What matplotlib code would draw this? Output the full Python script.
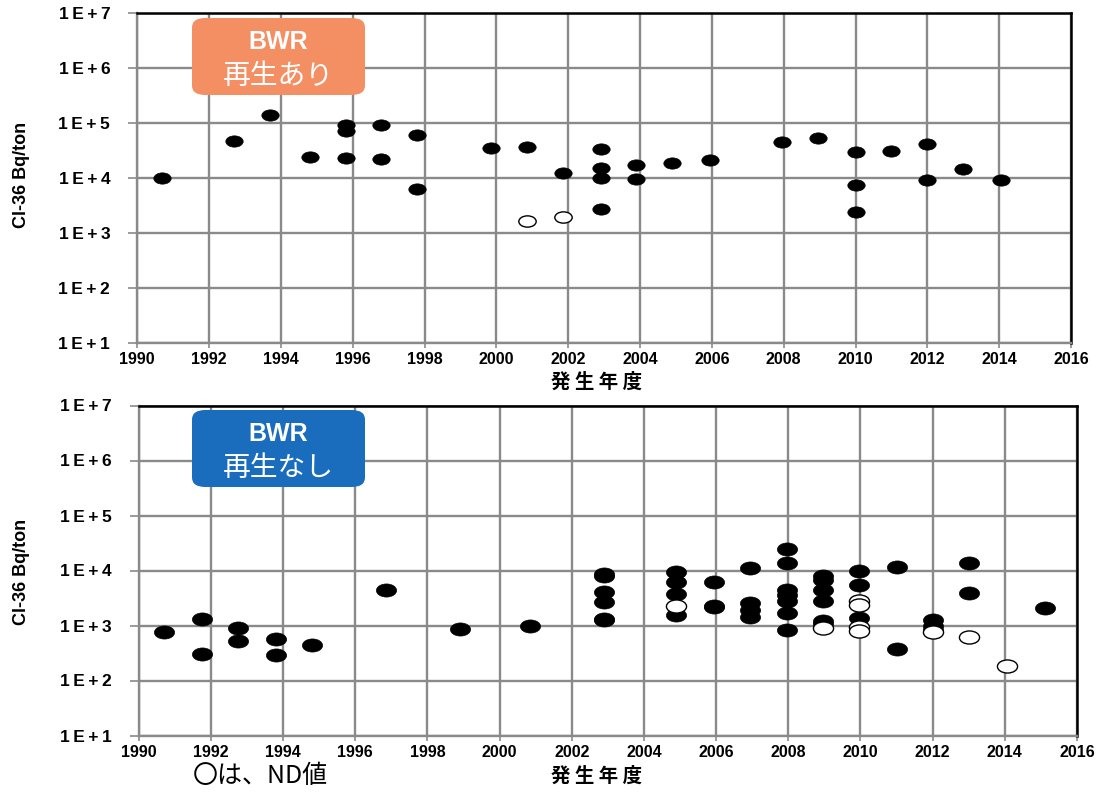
import numpy as np
import matplotlib
matplotlib.use("Agg")
import matplotlib.pyplot as plt
from matplotlib.path import Path
from matplotlib.transforms import Affine2D
from matplotlib.patches import FancyBboxPatch
from matplotlib.ticker import FixedLocator, FuncFormatter

# ---------------- data ----------------
top_fill_years = [1990.7, 1992.7, 1993.7, 1994.8, 1995.8, 1995.8, 1995.8, 1996.8, 1996.8,
                  1997.8, 1997.8, 1999.85, 2000.85, 2001.85, 2002.9, 2002.9, 2002.9, 2002.9,
                  2003.9, 2003.9, 2004.9, 2005.95, 2007.95, 2008.95, 2010.0, 2010.0, 2010.0,
                  2011.0, 2012.0, 2012.0, 2013.0, 2014.05]
top_fill_vals = [1.0e4, 4.7e4, 1.4e5, 2.4e4, 8.9e4, 7.1e4, 2.25e4, 8.9e4, 2.15e4,
                 6.1e4, 6.3e3, 3.4e4, 3.6e4, 1.23e4, 3.3e4, 1.48e4, 1.0e4, 2.7e3,
                 1.7e4, 9.5e3, 1.87e4, 2.07e4, 4.5e4, 5.2e4, 2.97e4, 7.4e3, 2.4e3,
                 3.1e4, 4.1e4, 8.9e3, 1.44e4, 8.9e3]
top_open_years = [2000.85, 2001.85]
top_open_vals = [1.6e3, 1.9e3]

bot_fill_years = [1990.7, 1991.75, 1991.75, 1992.75, 1992.75, 1993.8, 1993.8, 1994.8,
                  1996.85, 1998.9, 2000.85,
                  2002.9, 2002.9, 2002.9, 2002.9, 2002.9, 2002.9,
                  2004.9, 2004.9, 2004.9, 2004.9,
                  2005.95, 2005.95, 2005.95,
                  2006.95, 2006.95, 2006.95, 2006.95,
                  2007.95, 2007.95, 2007.95, 2007.95, 2007.95, 2007.95, 2007.95,
                  2008.95, 2008.95, 2008.95, 2008.95, 2008.95, 2008.95,
                  2009.95, 2009.95, 2009.95,
                  2011.0, 2011.0,
                  2012.0, 2012.0, 2012.0,
                  2013.0, 2013.0,
                  2015.1]
bot_fill_vals = [770, 1300, 305, 910, 515, 575, 285, 440,
                 4500, 850, 960,
                 8600, 7800, 4100, 2700, 1300, 1250,
                 9300, 6100, 3800, 1560,
                 6200, 2300, 2150,
                 11000, 2600, 1900, 1400,
                 25000, 13600, 4500, 3600, 2750, 1700, 830,
                 7800, 6600, 4500, 2750, 1230, 1050,
                 10000, 5500, 1350,
                 11500, 380,
                 1250, 1000, 830,
                 13600, 3900,
                 2100]
bot_open_years = [2004.9, 2008.95, 2009.95, 2009.95, 2009.95, 2009.95, 2012.0, 2013.0, 2014.05]
bot_open_vals = [2300, 890, 2750, 2400, 940, 780, 760, 620, 180]

x_ticks = list(range(1990, 2017, 2))
y_ticks = [1e1, 1e2, 1e3, 1e4, 1e5, 1e6, 1e7]
y_label = "Cl-36 Bq/ton"
x_label = "発 生 年 度"
top_title = ["BWR", "再生あり"]
bot_title = ["BWR", "再生なし"]
note_text = "〇は、ND値"

# ---------------- style ----------------
plt.rcParams['font.family'] = ['Liberation Sans', 'DejaVu Sans', 'Noto Sans CJK JP']
W, H = 1107, 793
fig = plt.figure(figsize=(W / 100, H / 100), dpi=100)

ell = Path.unit_circle().transformed(Affine2D().scale(1.0, 0.65))

grid_c = '#8a8a8a'
TS = '\u2009'


def px_axes(l, t, r, b):
    return fig.add_axes([l / W, 1 - b / H, (r - l) / W, (b - t) / H])


def ylab(v, p):
    return TS.join("1E+%d" % round(np.log10(v)))


def style(ax):
    ax.set_yscale('log')
    ax.set_xlim(1990, 2016)
    ax.set_ylim(1e1, 1e7)
    ax.xaxis.set_major_locator(FixedLocator(x_ticks))
    ax.yaxis.set_major_locator(FixedLocator(y_ticks))
    ax.yaxis.set_minor_locator(FixedLocator([]))
    ax.yaxis.set_major_formatter(FuncFormatter(ylab))
    ax.grid(True, color=grid_c, lw=1.7)
    ax.set_axisbelow(True)
    for s in ['top', 'right']:
        ax.spines[s].set_color('black')
        ax.spines[s].set_linewidth(1.8)
    for s in ['left', 'bottom']:
        ax.spines[s].set_color(grid_c)
        ax.spines[s].set_linewidth(1.7)
    ax.tick_params(axis='y', direction='out', length=6.5, width=1.2, color=grid_c,
                   pad=13, labelsize=12.5)
    ax.tick_params(axis='x', direction='inout', length=7, width=1.2, color=grid_c,
                   pad=3, labelsize=11.5)
    for lab in ax.get_xticklabels() + ax.get_yticklabels():
        lab.set_fontweight('semibold')


def draw(ax, fy, fv, oy, ov, ms):
    ax.plot(fy, fv, linestyle='none', marker=ell, markersize=ms, color='black',
            markeredgewidth=0.5, zorder=3)
    ax.plot(oy, ov, linestyle='none', marker=ell, markersize=ms, markerfacecolor='white',
            markeredgecolor='black', markeredgewidth=1.0, zorder=4)


def label_box(x0, y0, x1, y1, color, lines):
    box = FancyBboxPatch((x0 / W, 1 - y1 / H), (x1 - x0) / W, (y1 - y0) / H,
                         boxstyle="round,pad=0,rounding_size=0.012",
                         transform=fig.transFigure, facecolor=color, edgecolor='none',
                         zorder=10)
    fig.add_artist(box)
    cx = (x0 + x1) / 2 / W
    fig.text(cx, 1 - (y0 + 24) / H, lines[0], ha='center', va='center', color='white',
             fontsize=18, fontweight='bold', zorder=11)
    fig.text(cx, 1 - (y0 + 58) / H, lines[1], ha='center', va='center', color='white',
             fontsize=20, family=['Noto Sans CJK JP', 'DejaVu Sans'], zorder=11)


ax1 = px_axes(137.3, 12.7, 1071, 342.7)
style(ax1)
draw(ax1, top_fill_years, top_fill_vals, top_open_years, top_open_vals, 12.5)

ax2 = px_axes(138.8, 405.5, 1077, 735.5)
style(ax2)
draw(ax2, bot_fill_years, bot_fill_vals, bot_open_years, bot_open_vals, 14.5)

label_box(192, 18, 365, 95, '#F48E63', top_title)
label_box(192, 410, 365, 487, '#1A6DBD', bot_title)

for yc in [175, 572]:
    fig.text(22 / W, 1 - yc / H, y_label, rotation=90, ha='center', va='center',
             fontsize=13, fontweight='bold',
             family=['Liberation Sans Narrow', 'Liberation Sans'])

for yc in [382, 776]:
    fig.text(597 / W, 1 - yc / H, x_label, ha='center', va='center', fontsize=14,
             fontweight='bold', family=['Noto Sans CJK JP', 'DejaVu Sans'])

fig.text(193 / W, 1 - 776 / H, note_text, ha='left', va='center', fontsize=18,
         family=['Noto Sans CJK JP', 'DejaVu Sans'])

fig.savefig('out.png', dpi=100)
